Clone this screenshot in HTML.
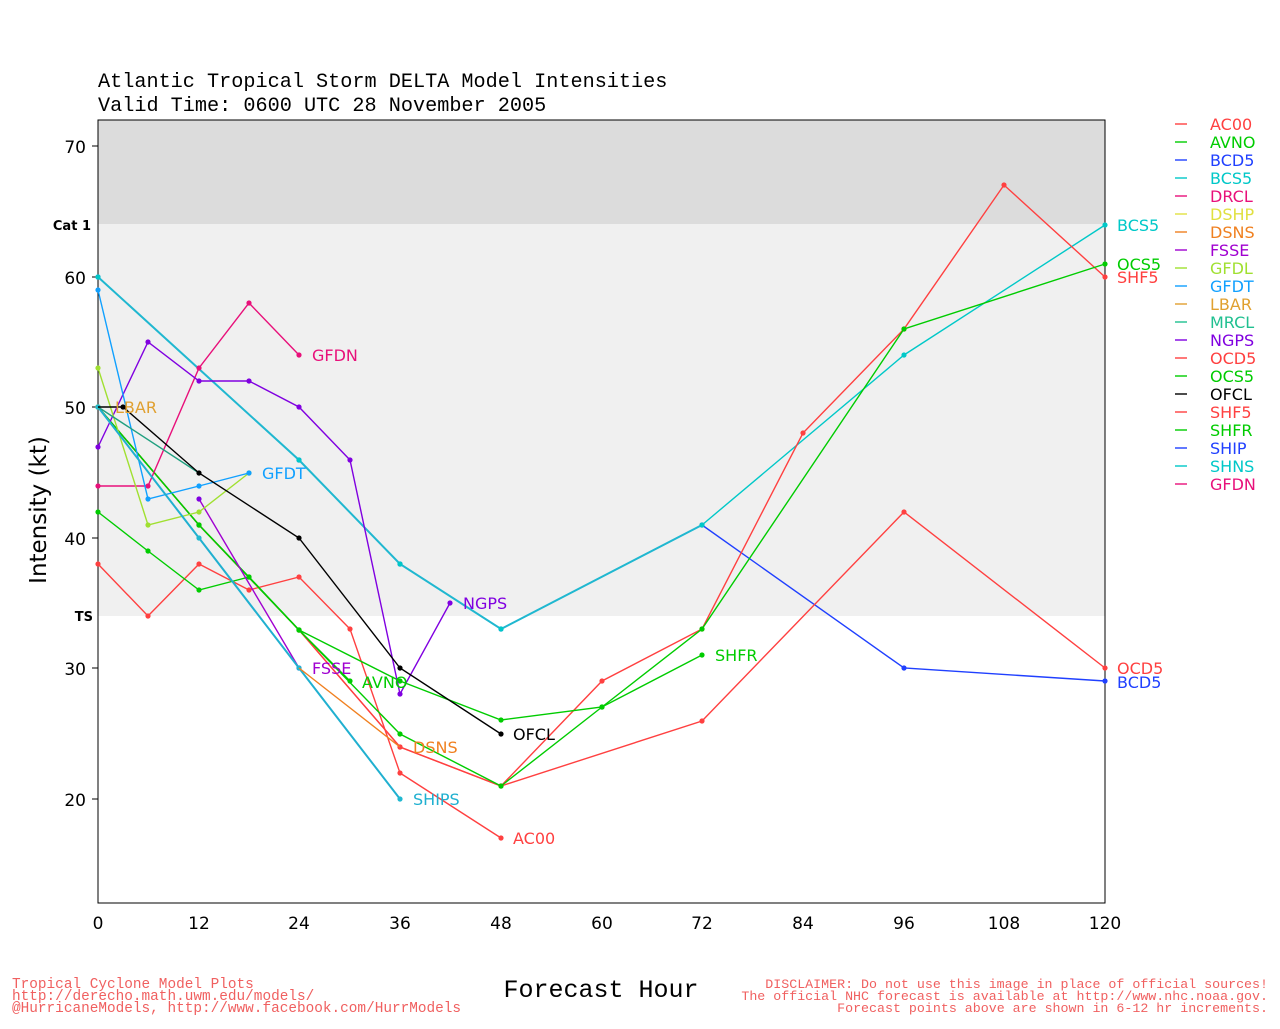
<!DOCTYPE html>
<html><head><meta charset="utf-8"><style>
html,body{margin:0;padding:0;background:#fff}
svg text{font-family:"DejaVu Sans","Liberation Sans",sans-serif}
svg text.m{font-family:"Liberation Mono",monospace}
</style></head><body>
<svg width="1280" height="1024" xmlns="http://www.w3.org/2000/svg">
<defs>
<marker id="r" markerWidth="6" markerHeight="6" refX="3" refY="3" markerUnits="userSpaceOnUse"><circle cx="3" cy="3" r="2.6" fill="#ff4040"/></marker>
<marker id="c" markerWidth="6" markerHeight="6" refX="3" refY="3" markerUnits="userSpaceOnUse"><circle cx="3" cy="3" r="2.6" fill="#00c8c8"/></marker>
<marker id="b" markerWidth="6" markerHeight="6" refX="3" refY="3" markerUnits="userSpaceOnUse"><circle cx="3" cy="3" r="2.6" fill="#2040ff"/></marker>
<marker id="g" markerWidth="6" markerHeight="6" refX="3" refY="3" markerUnits="userSpaceOnUse"><circle cx="3" cy="3" r="2.6" fill="#00cc00"/></marker>
<marker id="p" markerWidth="6" markerHeight="6" refX="3" refY="3" markerUnits="userSpaceOnUse"><circle cx="3" cy="3" r="2.6" fill="#e8107a"/></marker>
<marker id="v" markerWidth="6" markerHeight="6" refX="3" refY="3" markerUnits="userSpaceOnUse"><circle cx="3" cy="3" r="2.6" fill="#8000e0"/></marker>
<marker id="l" markerWidth="6" markerHeight="6" refX="3" refY="3" markerUnits="userSpaceOnUse"><circle cx="3" cy="3" r="2.6" fill="#a0e030"/></marker>
<marker id="s" markerWidth="6" markerHeight="6" refX="3" refY="3" markerUnits="userSpaceOnUse"><circle cx="3" cy="3" r="2.6" fill="#10a0ff"/></marker>
<marker id="t" markerWidth="6" markerHeight="6" refX="3" refY="3" markerUnits="userSpaceOnUse"><circle cx="3" cy="3" r="2.6" fill="#20b8d0"/></marker>
<marker id="k" markerWidth="6" markerHeight="6" refX="3" refY="3" markerUnits="userSpaceOnUse"><circle cx="3" cy="3" r="2.6" fill="#000"/></marker>
</defs>
<rect x="98" y="120" width="1007" height="104" fill="#dcdcdc"/>
<rect x="98" y="224" width="1007" height="392" fill="#f0f0f0"/>
<rect x="98" y="120" width="1007" height="783" fill="none" stroke="#000" stroke-width="1"/>
<text class="m" x="98" y="87" font-size="20.2">Atlantic Tropical Storm DELTA Model Intensities</text>
<text class="m" x="98" y="111" font-size="20.2">Valid Time: 0600 UTC 28 November 2005</text>
<g font-size="17" text-anchor="end">
<text x="86" y="153">70</text><text x="86" y="284">60</text><text x="86" y="414">50</text><text x="86" y="545">40</text><text x="86" y="675">30</text><text x="86" y="806">20</text>
</g>
<g font-size="13" font-weight="bold" text-anchor="end"><text x="91" y="230">Cat 1</text><text x="93" y="621">TS</text></g>
<g stroke="#000"><line x1="92" y1="146" x2="98" y2="146"/><line x1="92" y1="277" x2="98" y2="277"/><line x1="92" y1="407" x2="98" y2="407"/><line x1="92" y1="538" x2="98" y2="538"/><line x1="92" y1="668" x2="98" y2="668"/><line x1="92" y1="799" x2="98" y2="799"/></g>
<g font-size="17" text-anchor="middle">
<text x="98" y="929">0</text><text x="199" y="929">12</text><text x="299" y="929">24</text><text x="400" y="929">36</text><text x="501" y="929">48</text><text x="602" y="929">60</text><text x="702" y="929">72</text><text x="803" y="929">84</text><text x="904" y="929">96</text><text x="1004" y="929">108</text><text x="1105" y="929">120</text>
</g>
<text x="46" y="510" font-size="23" text-anchor="middle" transform="rotate(-90 46 510)">Intensity (kt)</text>
<text class="m" x="601" y="997" font-size="25" text-anchor="middle">Forecast Hour</text>
<g font-size="14.4" fill="#f06060"><text class="m" x="12" y="988">Tropical Cyclone Model Plots</text><text class="m" x="12" y="1000">http://derecho.math.uwm.edu/models/</text><text class="m" x="12" y="1012">@HurricaneModels, http://www.facebook.com/HurrModels</text></g>
<g font-size="13.3" fill="#f06060" text-anchor="end"><text class="m" x="1268" y="988">DISCLAIMER: Do not use this image in place of official sources!</text><text class="m" x="1268" y="1000">The official NHC forecast is available at http://www.nhc.noaa.gov.</text><text class="m" x="1268" y="1012">Forecast points above are shown in 6-12 hr increments.</text></g>
<g fill="none" stroke-width="1.4">
<polyline stroke="#2040ff" marker-start="url(#b)" marker-mid="url(#b)" marker-end="url(#b)" points="98,277 299,460 400,564 501,629 702,525 904,668 1105,681"/>
<polyline stroke="#20b8d0" stroke-width="2" marker-start="url(#c)" marker-mid="url(#c)" marker-end="url(#c)" points="98,277 299,460 400,564 501,629 702,525"/>
<polyline stroke="#00c8c8" marker-mid="url(#c)" marker-end="url(#c)" points="702,525 904,355 1105,225"/>
<polyline stroke="#ff4040" marker-start="url(#r)" marker-mid="url(#r)" marker-end="url(#r)" points="98,564 148,616 199,564 249,590 299,577 350,629 400,773 501,838"/>
<polyline stroke="#ff4040" marker-start="url(#r)" marker-mid="url(#r)" marker-end="url(#r)" points="98,407 199,525 299,630 400,747 501,786 702,721 904,512 1105,668"/>
<polyline stroke="#ff4040" marker-start="url(#r)" marker-mid="url(#r)" marker-end="url(#r)" points="98,407 199,525 299,630 400,747 501,786 602,681 702,629 803,433 904,329 1004,185 1105,277"/>
<polyline stroke="#00cc00" marker-start="url(#g)" marker-mid="url(#g)" marker-end="url(#g)" points="98,407 199,525 299,630 400,734 501,786 602,707 702,629 904,329 1105,264"/>
<polyline stroke="#00cc00" marker-start="url(#g)" marker-mid="url(#g)" marker-end="url(#g)" points="98,512 148,551 199,590 249,577 299,630 350,681"/>
<polyline stroke="#00cc00" marker-start="url(#g)" marker-mid="url(#g)" marker-end="url(#g)" points="98,407 199,525 249,577 299,630 400,681 501,720 602,707 702,655"/>
<polyline stroke="#e8107a" marker-start="url(#p)" marker-mid="url(#p)" marker-end="url(#p)" points="98,486 148,486 199,368 249,303 299,355"/>
<polyline stroke="#8000e0" marker-start="url(#v)" marker-mid="url(#v)" marker-end="url(#v)" points="98,447 148,342 199,381 249,381 299,407 350,460 400,694 450,603"/>
<polyline stroke="#a000d0" marker-start="url(#v)" marker-end="url(#v)" points="199,499 299,668"/>
<polyline stroke="#a0e030" marker-start="url(#l)" marker-mid="url(#l)" marker-end="url(#l)" points="98,368 148,525 199,512 249,473"/>
<polyline stroke="#10a0ff" marker-start="url(#s)" marker-mid="url(#s)" marker-end="url(#s)" points="98,290 148,499 199,486 249,473"/>
<polyline stroke="#20b0d0" stroke-width="2" marker-start="url(#t)" marker-mid="url(#t)" marker-end="url(#t)" points="98,407 199,538 299,668 400,799"/>
<polyline stroke="#20a080" points="98,407 199,473"/>
<polyline stroke="#f08020" points="299,668 400,747"/>
<polyline stroke="#000" marker-mid="url(#k)" marker-end="url(#k)" points="98,407 123,407 199,473 299,538 400,668 501,734"/>
</g>
<g font-size="16">
<text x="312" y="361" fill="#e8107a">GFDN</text>
<text x="262" y="479" fill="#10a0ff">GFDT</text>
<text x="115" y="413" fill="#e0a030">LBAR</text>
<text x="463" y="609" fill="#8000e0">NGPS</text>
<text x="312" y="674" fill="#a000d0">FSSE</text>
<text x="362" y="688" fill="#00cc00">AVNO</text>
<text x="413" y="753" fill="#f08020">DSNS</text>
<text x="413" y="805" fill="#20b0d0">SHIPS</text>
<text x="513" y="740" fill="#000">OFCL</text>
<text x="513" y="844" fill="#ff4040">AC00</text>
<text x="715" y="661" fill="#00cc00">SHFR</text>
<text x="1117" y="231" fill="#00c8c8">BCS5</text>
<text x="1117" y="270" fill="#00cc00">OCS5</text>
<text x="1117" y="283" fill="#ff4040">SHF5</text>
<text x="1117" y="674" fill="#ff4040">OCD5</text>
<text x="1117" y="688" fill="#2040ff">BCD5</text>
</g>
<g font-size="16">
<g stroke-width="1.4">
<line x1="1175" y1="124" x2="1187" y2="124" stroke="#ff4040"/><line x1="1175" y1="142" x2="1187" y2="142" stroke="#00cc00"/><line x1="1175" y1="160" x2="1187" y2="160" stroke="#2040ff"/><line x1="1175" y1="178" x2="1187" y2="178" stroke="#00c8c8"/><line x1="1175" y1="196" x2="1187" y2="196" stroke="#e8107a"/><line x1="1175" y1="214" x2="1187" y2="214" stroke="#e0e040"/><line x1="1175" y1="232" x2="1187" y2="232" stroke="#f08020"/><line x1="1175" y1="250" x2="1187" y2="250" stroke="#a000d0"/><line x1="1175" y1="268" x2="1187" y2="268" stroke="#a0e030"/><line x1="1175" y1="286" x2="1187" y2="286" stroke="#10a0ff"/><line x1="1175" y1="304" x2="1187" y2="304" stroke="#e0a030"/><line x1="1175" y1="322" x2="1187" y2="322" stroke="#20c090"/><line x1="1175" y1="340" x2="1187" y2="340" stroke="#8000e0"/><line x1="1175" y1="358" x2="1187" y2="358" stroke="#ff4040"/><line x1="1175" y1="376" x2="1187" y2="376" stroke="#00cc00"/><line x1="1175" y1="394" x2="1187" y2="394" stroke="#000"/><line x1="1175" y1="412" x2="1187" y2="412" stroke="#ff4040"/><line x1="1175" y1="430" x2="1187" y2="430" stroke="#00cc00"/><line x1="1175" y1="448" x2="1187" y2="448" stroke="#2040ff"/><line x1="1175" y1="466" x2="1187" y2="466" stroke="#00c8c8"/><line x1="1175" y1="484" x2="1187" y2="484" stroke="#e8107a"/>
</g>
<text x="1210" y="130" fill="#ff4040">AC00</text><text x="1210" y="148" fill="#00cc00">AVNO</text><text x="1210" y="166" fill="#2040ff">BCD5</text><text x="1210" y="184" fill="#00c8c8">BCS5</text><text x="1210" y="202" fill="#e8107a">DRCL</text><text x="1210" y="220" fill="#e0e040">DSHP</text><text x="1210" y="238" fill="#f08020">DSNS</text><text x="1210" y="256" fill="#a000d0">FSSE</text><text x="1210" y="274" fill="#a0e030">GFDL</text><text x="1210" y="292" fill="#10a0ff">GFDT</text><text x="1210" y="310" fill="#e0a030">LBAR</text><text x="1210" y="328" fill="#20c090">MRCL</text><text x="1210" y="346" fill="#8000e0">NGPS</text><text x="1210" y="364" fill="#ff4040">OCD5</text><text x="1210" y="382" fill="#00cc00">OCS5</text><text x="1210" y="400" fill="#000">OFCL</text><text x="1210" y="418" fill="#ff4040">SHF5</text><text x="1210" y="436" fill="#00cc00">SHFR</text><text x="1210" y="454" fill="#2040ff">SHIP</text><text x="1210" y="472" fill="#00c8c8">SHNS</text><text x="1210" y="490" fill="#e8107a">GFDN</text>
</g>
</svg>
</body></html>
